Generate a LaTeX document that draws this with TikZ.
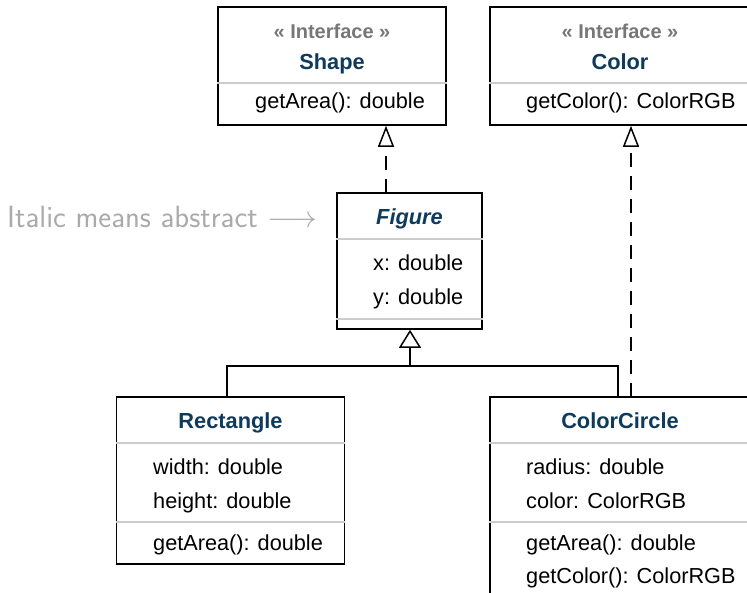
\RequirePackage{fix-cm}
\documentclass[tikz,border=0pt]{standalone}
\usepackage{fontspec}
\setmainfont{Liberation Sans}
\usetikzlibrary{arrows.meta}

\definecolor{titleblue}{HTML}{0E3A5C}
\definecolor{stereogray}{HTML}{777777}
\definecolor{sepgray}{HTML}{CCCCCC}
\definecolor{notegray}{HTML}{AAAAAA}

\tikzset{
  umlbox/.style={draw=black, line width=1.6pt, fill=white, rectangle, inner sep=0pt},
  sepline/.style={draw=sepgray, line width=2pt},
  stereo/.style={font=\bfseries\fontsize{20}{24}\selectfont, text=stereogray, inner sep=0pt, anchor=base},
  classname/.style={font=\bfseries\fontsize{21.8}{26}\selectfont, text=titleblue, inner sep=0pt, anchor=base},
  member/.style={font=\fontsize{21.7}{26}\selectfont, text=black, inner sep=0pt, anchor=base west},
  note/.style={font=\sffamily\fontsize{30.7}{36}\selectfont, text=notegray, inner sep=0pt, anchor=base west},
  inherit/.style={draw=black, line width=1.5pt, -{Triangle[open, length=18pt, width=22pt, line width=1.5pt]}},
  realize/.style={draw=black, line width=1.5pt, dash pattern=on 14pt off 9pt,
    -{Triangle[open, length=21pt, width=16pt, line width=1.5pt]}},
  plainline/.style={draw=black, line width=1.5pt},
}

\begin{document}
\begin{tikzpicture}[x=1pt, y=-1pt]
  \useasboundingbox (0,0) rectangle (747,593);
  \clip (0,0) rectangle (747,593);
  \fill[white] (0,0) rectangle (747,593);

  % ---------- interface Shape ----------
  \node[umlbox, minimum width=228pt, minimum height=118pt] (shape) at (332,66) {};
  \draw[sepline] (shape.west |- 0,83) -- (shape.east |- 0,83);
  \node[stereo] (shape-st) at (332,38.5) {« Interface »};
  \node[classname] (shape-name) at (332,69.5) {Shape};
  \node[member] (shape-m1) at (255,108.5) {getArea(): double};

  % ---------- interface Color ----------
  \node[umlbox, minimum width=262pt, minimum height=118pt] (color) at (621,66) {};
  \draw[sepline] (color.west |- 0,83) -- (color.east |- 0,83);
  \node[stereo] (color-st) at (620,38.5) {« Interface »};
  \node[classname] (color-name) at (620,69.5) {Color};
  \node[member] (color-m1) at (526,108.5) {getColor(): ColorRGB};

  % ---------- abstract class Figure ----------
  \node[umlbox, minimum width=145pt, minimum height=136pt] (figure) at (409.5,261) {};
  \draw[sepline] (figure.west |- 0,239) -- (figure.east |- 0,239);
  \draw[sepline] (figure.west |- 0,319) -- (figure.east |- 0,319);
  \node[classname] (figure-name) at (409.5,224.5) {\itshape Figure};
  \node[member] (figure-a1) at (373,270.5) {x: double};
  \node[member] (figure-a2) at (373,304.5) {y: double};

  % ---------- class Rectangle ----------
  \node[umlbox, minimum width=228pt, minimum height=167pt] (rect) at (230.5,480.5) {};
  \draw[sepline] (rect.west |- 0,443) -- (rect.east |- 0,443);
  \draw[sepline] (rect.west |- 0,522) -- (rect.east |- 0,522);
  \node[classname] (rect-name) at (230.5,428.5) {Rectangle};
  \node[member] (rect-a1) at (153,474.5) {width: double};
  \node[member] (rect-a2) at (153,508.5) {height: double};
  \node[member] (rect-m1) at (153,550.5) {getArea(): double};

  % ---------- class ColorCircle ----------
  \node[umlbox, minimum width=262pt, minimum height=210pt] (cc) at (621,502) {};
  \draw[sepline] (cc.west |- 0,443) -- (cc.east |- 0,443);
  \draw[sepline] (cc.west |- 0,522) -- (cc.east |- 0,522);
  \node[classname] (cc-name) at (620,428.5) {ColorCircle};
  \node[member] (cc-a1) at (526,474.5) {radius: double};
  \node[member] (cc-a2) at (526,508.5) {color: ColorRGB};
  \node[member] (cc-m1) at (526,550.5) {getArea(): double};
  \node[member] (cc-m2) at (526,583.5) {getColor(): ColorRGB};

  % ---------- generalization: Rectangle, ColorCircle -> Figure ----------
  \coordinate (rect-up) at (227,397);
  \coordinate (cc-up) at (618,397);
  \coordinate (join) at (410,366);
  \draw[plainline] (rect-up) |- (join) -| (cc-up);
  \draw[inherit] (join) -- (join |- figure.south);

  % ---------- realization: Figure -> Shape, ColorCircle -> Color ----------
  \coordinate (fig-top) at (386,193);
  \draw[realize] (fig-top) -- (fig-top |- shape.south);
  \coordinate (cc-top) at (631,397);
  \draw[realize] (cc-top) -- (cc-top |- color.south);

  % ---------- annotation ----------
  \node[note] (note) at (7,228) {Italic means abstract $\longrightarrow$};
\end{tikzpicture}
\end{document}
